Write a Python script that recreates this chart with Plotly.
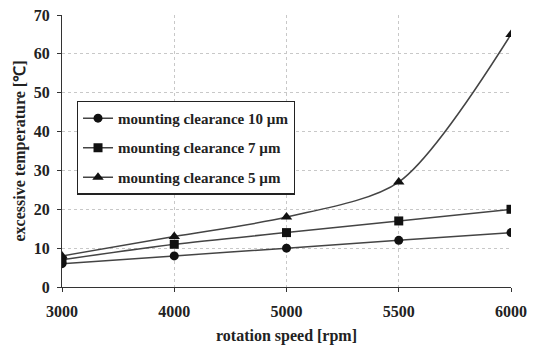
import plotly.graph_objects as go

speeds = ["3000", "4000", "5000", "5500", "6000"]
clear10 = [6, 8, 10, 12, 14]
clear7 = [7, 11, 14, 17, 20]
clear5 = [8, 13, 18, 27, 65]
names = ["mounting clearance 10 µm", "mounting clearance 7 µm", "mounting clearance 5 µm"]
symbols = ["circle", "square", "triangle-up"]

fig = go.Figure()
for i, (vals, name, sym) in enumerate(zip([clear10, clear7, clear5], names, symbols)):
    fig.add_trace(go.Scatter(
        x=speeds, y=vals, name=name, mode="lines+markers", legendgroup=str(i),
        line=dict(color="#444444", width=1.5, shape="spline", smoothing=0.8),
        marker=dict(symbol=sym, color="#111111", size=9 if sym != "triangle-up" else 10),
    ))

font = "Liberation Serif"
fig.update_layout(
    width=537, height=345,
    margin=dict(l=62, r=26, t=15, b=58),
    paper_bgcolor="white", plot_bgcolor="white",
    font=dict(family=font, color="#222222"),
    legend=dict(
        x=0.033, y=0.685, xanchor="left", yanchor="top",
        bordercolor="#222222", borderwidth=1.2, bgcolor="white",
        font=dict(family=font, size=15, color="#222222", weight="bold"),
        tracegroupgap=7,
    ),
)
fig.update_xaxes(
    type="category", range=[0, 4], automargin=False,
    showline=True, linecolor="#333333", linewidth=1,
    showgrid=True, gridcolor="#c8c8c8", griddash="dot", gridwidth=1,
    ticks="outside", ticklen=4, tickcolor="#333333", ticklabelstandoff=6,
    tickfont=dict(family=font, size=16, color="#222222", weight="bold"),
    title=dict(text="rotation speed [rpm]", font=dict(family=font, size=16, weight="bold"), standoff=10),
)
fig.update_yaxes(
    range=[0, 70], dtick=10, automargin=False,
    showline=True, linecolor="#333333", linewidth=1,
    showgrid=True, gridcolor="#c8c8c8", griddash="dot", gridwidth=1,
    ticks="outside", ticklen=4, tickcolor="#333333", ticklabelstandoff=4,
    tickfont=dict(family=font, size=16, color="#222222", weight="bold"),
    title=dict(text="excessive temperature [℃]", font=dict(family=font, size=16, weight="bold"), standoff=4),
    zeroline=False,
)
fig.write_html("out.html")
